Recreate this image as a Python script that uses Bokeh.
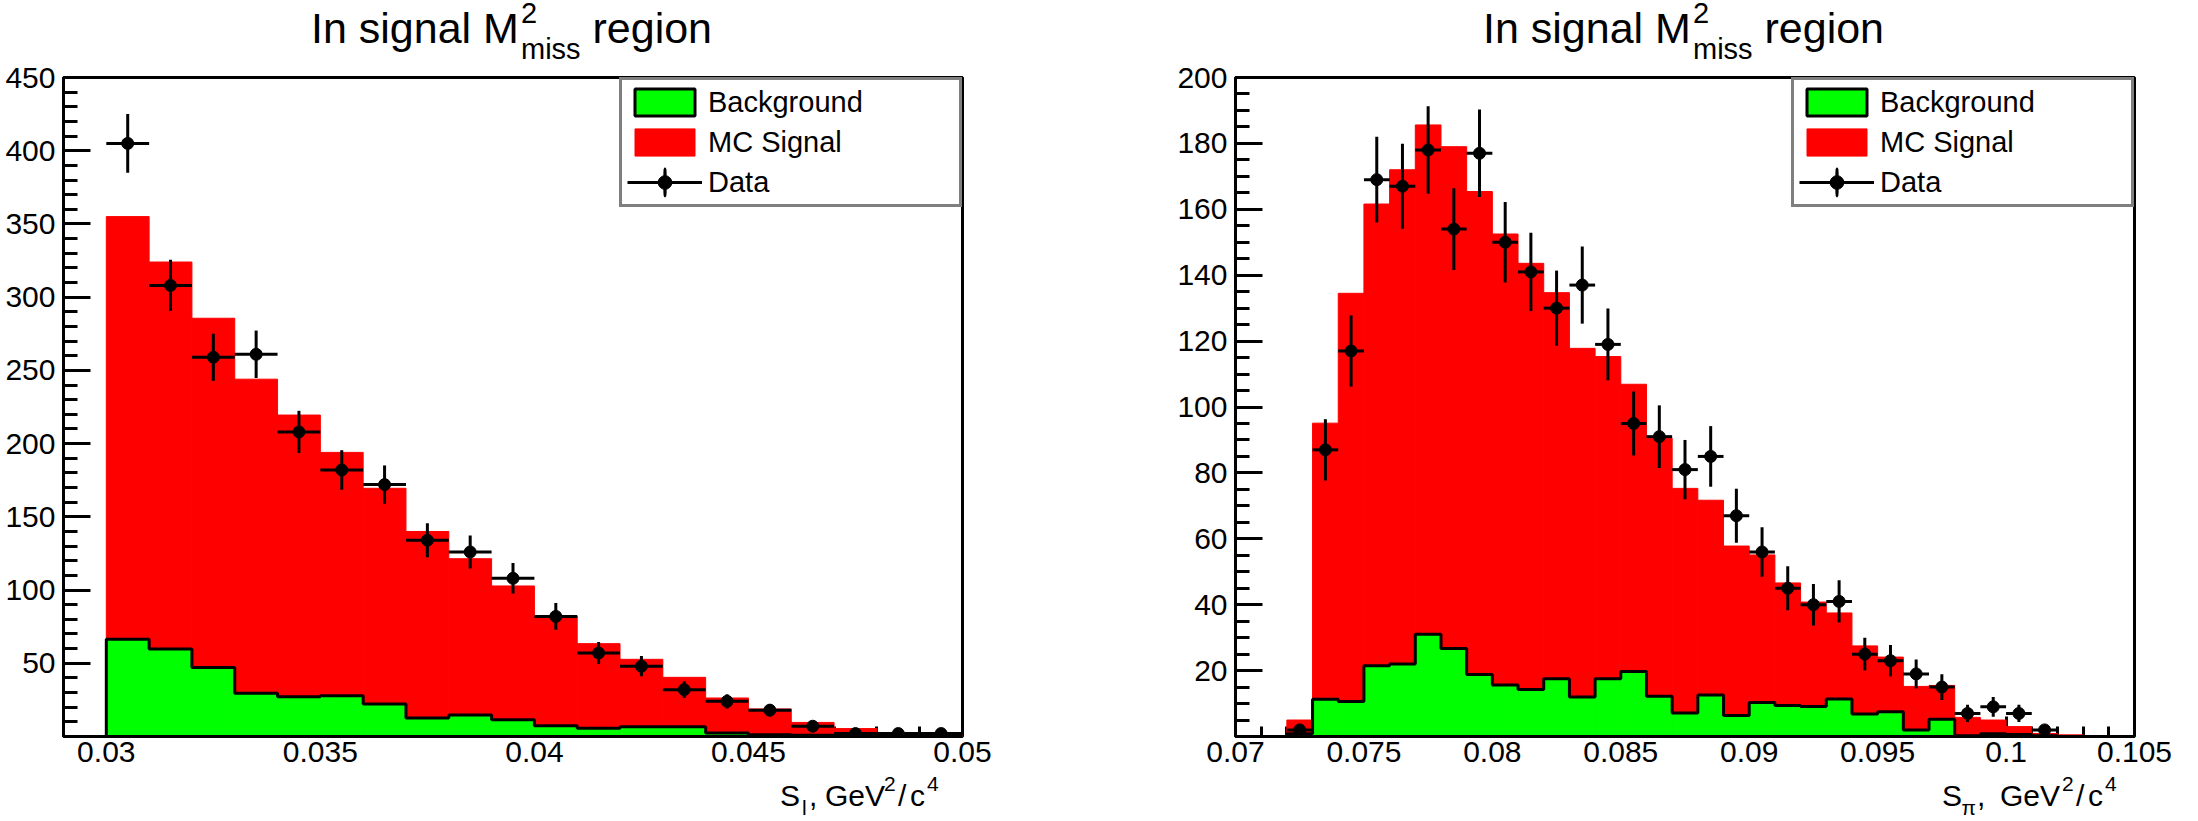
from bokeh.plotting import figure
from bokeh.layouts import row, column
from bokeh.models import (Range1d, FixedTicker, PrintfTickFormatter, Legend,
                          LegendItem, ColumnDataSource, LinearAxis, Div,
                          CustomJSTickFormatter)
from bokeh.embed import file_html
from bokeh.resources import INLINE

# ---------------- left panel : S_l ----------------
sl_edges = [0.029, 0.030, 0.031, 0.032, 0.033, 0.034, 0.035, 0.036, 0.037, 0.038, 0.039,
            0.040, 0.041, 0.042, 0.043, 0.044, 0.045, 0.046, 0.047, 0.048, 0.049, 0.050]
sl_background = [0, 66.4, 59.8, 47.2, 29.5, 27.2, 27.9, 22.2, 12.6, 14.7, 11.5,
                 7.4, 5.6, 6.7, 6.7, 2.4, 1.2, 0.8, 0.5, 0.3, 0.2]
# MC signal stacked on top of the background (top of the red histogram)
sl_mc_total = [0, 355, 324, 285.6, 244, 219.5, 194, 169.5, 140, 121.4, 102.8,
               82.3, 63.4, 52.7, 40.4, 26.3, 18.8, 9.6, 5.4, 2.3, 1.2]
sl_data = [None, 405, 308, 259, 261, 208, 182, 172, 134, 126, 108,
           82, 57, 48, 32, 24, 18, 7, 2, 2, 2]
sl_data_err = [None, 20.1, 17.5, 16.1, 16.2, 14.4, 13.5, 13.1, 11.6, 11.2, 10.4,
               9.1, 7.5, 6.9, 5.7, 4.9, 4.2, 2.6, 1.4, 1.4, 1.4]
sl_xticks = [0.03, 0.035, 0.04, 0.045, 0.05]
sl_xtick_labels = ["0.03", "0.035", "0.04", "0.045", "0.05"]
sl_yticks = [50, 100, 150, 200, 250, 300, 350, 400, 450]

# ---------------- right panel : S_pi ----------------
sp_edges = [0.070, 0.071, 0.072, 0.073, 0.074, 0.075, 0.076, 0.077, 0.078, 0.079,
            0.080, 0.081, 0.082, 0.083, 0.084, 0.085, 0.086, 0.087, 0.088, 0.089,
            0.090, 0.091, 0.092, 0.093, 0.094, 0.095, 0.096, 0.097, 0.098, 0.099,
            0.100, 0.101, 0.102, 0.103, 0.104, 0.105]
sp_background = [0, 0, 0.8, 11.3, 10.6, 21.5, 22.0, 31.0, 26.7, 18.8,
                 15.6, 14.3, 17.5, 12.0, 17.5, 19.7, 12.2, 7.1, 12.6, 6.4,
                 10.3, 9.4, 9.1, 11.4, 6.8, 7.5, 2.0, 5.2, 0.2, 0.8,
                 0.6, 0.2, 0, 0, 0]
sp_mc_total = [0, 0, 5.0, 95.1, 134.5, 161.6, 172.0, 185.6, 179.0, 165.4,
               152.5, 143.6, 134.7, 117.8, 115.3, 106.9, 90.5, 75.3, 71.7, 57.8,
               55.1, 46.6, 40.8, 37.5, 27.5, 24.1, 15.2, 15.5, 5.8, 5.0,
               3.0, 0.9, 0.5, 0, 0]
sp_data = [None, None, 2, 87, 117, 169, 167, 178, 154, 177,
           150, 141, 130, 137, 119, 95, 91, 81, 85, 67,
           56, 45, 40, 41, 25, 23, 19, 15, 7, 9,
           7, 2, None, None, None]
sp_data_err = [None, None, 1.4, 9.3, 10.8, 13.0, 12.9, 13.3, 12.4, 13.3,
               12.2, 11.9, 11.4, 11.7, 10.9, 9.7, 9.5, 9.0, 9.2, 8.2,
               7.5, 6.7, 6.3, 6.4, 5.0, 4.8, 4.4, 3.9, 2.6, 3.0,
               2.6, 1.4, None, None, None]
sp_xticks = [0.07, 0.075, 0.08, 0.085, 0.09, 0.095, 0.1, 0.105]
sp_xtick_labels = ["0.07", "0.075", "0.08", "0.085", "0.09", "0.095", "0.1", "0.105"]
sp_yticks = [20, 40, 60, 80, 100, 120, 140, 160, 180, 200]

FONT = "Liberation Sans"
RED = "#ff0000"
GREEN = "#00ff00"

PANEL_W = 1099
TITLE_H = 60
XTITLE_H = 45
TOP_B = 17
BOT_B = 40
FRAME_W = 899
FRAME_H = 659


def span(x, baseline, size, text):
    top = baseline - 0.8465 * size
    return (f'<span style="position:absolute;left:{x:.1f}px;top:{top:.1f}px;'
            f'font-family:\'{FONT}\';font-size:{size}px;line-height:{size}px;'
            f'white-space:nowrap;color:#000;margin:0;padding:0;">{text}</span>')


def text_div(spans, h):
    html = (f'<div style="position:relative;width:{PANEL_W}px;height:{h}px;margin:0;padding:0;">'
            + "".join(spans) + '</div>')
    return Div(text=html, width=PANEL_W, height=h, margin=(0, 0, 0, 0))


def title_div(cx):
    return text_div([span(cx - 201.5, 43, 43, "In signal M"),
                     span(cx + 8.5, 23, 29, "2"),
                     span(cx + 8.5, 59, 29, "miss"),
                     span(cx + 80, 43, 43, "region")], TITLE_H)


def xtitle_div(ex, sub, offs):
    # offs: x offsets (px, from the frame's right end) of S, sub, ",", GeV, 2, /, c, 4
    base = 30      # baseline of the main text inside the div
    o_s, o_sub, o_com, o_gev, o_2, o_sl, o_c, o_4 = offs
    return text_div([span(ex + o_s, base, 30, "S"),
                     span(ex + o_sub, base + 9, 21, sub),
                     span(ex + o_com, base, 30, ","),
                     span(ex + o_gev, base, 30, "GeV"),
                     span(ex + o_2, base - 15, 21, "2"),
                     span(ex + o_sl, base, 30, "/"),
                     span(ex + o_c, base, 30, "c"),
                     span(ex + o_4, base - 15, 21, "4")], XTITLE_H)


def make_panel(edges, background, mc_total, data, data_err, y_top,
               xticks, xtick_labels, yticks, y_minor_step, border_left, border_right):
    x0, x1 = edges[0], edges[-1]
    p = figure(width=border_left + FRAME_W + border_right, height=TOP_B + FRAME_H + BOT_B,
               frame_width=FRAME_W, frame_height=FRAME_H,
               x_range=Range1d(x0, x1), y_range=Range1d(0, y_top),
               output_backend="svg", toolbar_location=None,
               min_border_left=border_left, min_border_right=border_right,
               min_border_top=TOP_B, min_border_bottom=BOT_B)
    p.background_fill_color = "white"
    p.border_fill_color = "white"
    p.outline_line_color = "black"
    p.outline_line_width = 3
    p.xgrid.visible = False
    p.ygrid.visible = False

    lefts = edges[:-1]
    rights = edges[1:]
    src = ColumnDataSource(dict(left=lefts, right=rights, bg=background, tot=mc_total))
    red = p.quad(left="left", right="right", bottom=0, top="tot", source=src,
                 fill_color=RED, line_color=RED, line_width=1)
    p.quad(left="left", right="right", bottom=0, top="bg", source=src,
           fill_color=GREEN, line_color=GREEN, line_width=1)
    p.step(x=list(edges), y=list(background) + [background[-1]], mode="after",
           line_color="black", line_width=3)

    idx = [i for i, v in enumerate(data) if v is not None]
    dsrc = ColumnDataSource(dict(
        xl=[lefts[i] for i in idx], xr=[rights[i] for i in idx],
        xc=[(lefts[i] + rights[i]) / 2 for i in idx],
        y=[data[i] for i in idx],
        ylo=[data[i] - data_err[i] for i in idx],
        yhi=[data[i] + data_err[i] for i in idx]))
    hseg = p.segment(x0="xl", x1="xr", y0="y", y1="y", source=dsrc,
                     line_color="black", line_width=3)
    p.segment(x0="xc", x1="xc", y0="ylo", y1="yhi", source=dsrc,
              line_color="black", line_width=3)
    dots = p.scatter(x="xc", y="y", source=dsrc, marker="circle", size=12,
                     fill_color="black", line_color="black")

    # legend-only proxies, placed below the visible y range (fully clipped)
    bg_proxy = p.quad(left=[lefts[0]], right=[rights[0]], top=[-y_top], bottom=[-2 * y_top],
                      fill_color=GREEN, line_color="black", line_width=3)
    vbar_proxy = p.ellipse(x=[lefts[0]], y=[-y_top], width=0.3, height=24,
                           width_units="screen", height_units="screen",
                           fill_color=None, line_color="black", line_width=3)

    legend = Legend(items=[LegendItem(label="Background", renderers=[bg_proxy]),
                           LegendItem(label="MC Signal", renderers=[red]),
                           LegendItem(label="Data", renderers=[hseg, vbar_proxy, dots])],
                    location="top_right", margin=0, padding=5, spacing=6,
                    glyph_width=75, glyph_height=34, label_height=34, label_width=246,
                    label_standoff=6, label_text_font=FONT, label_text_font_size="29px",
                    label_text_color="black",
                    border_line_color="black", border_line_width=3,
                    background_fill_color="white", background_fill_alpha=1.0)
    p.add_layout(legend)

    # x axis 1: tick marks only, drawn underneath the histograms (as in ROOT)
    xa = p.xaxis[0]
    xa.ticker = FixedTicker(ticks=xticks, minor_ticks=list(edges))
    xa.formatter = CustomJSTickFormatter(code="return ''")
    xa.major_label_text_font_size = "1px"
    xa.major_label_standoff = 0
    xa.axis_line_color = None
    xa.major_tick_in = 20
    xa.minor_tick_in = 10
    xa.major_tick_out = 0
    xa.minor_tick_out = 0
    xa.major_tick_line_width = 3
    xa.minor_tick_line_width = 3
    xa.major_tick_line_color = "black"
    xa.minor_tick_line_color = "black"
    xa.level = "underlay"

    # x axis 2: axis line and tick labels
    xl = LinearAxis(ticker=FixedTicker(ticks=xticks, minor_ticks=[]),
                    formatter=PrintfTickFormatter(format="%g"),
                    major_label_overrides=dict(zip(xticks, xtick_labels)))
    xl.axis_line_color = "black"
    xl.axis_line_width = 3
    xl.major_tick_in = 0
    xl.major_tick_out = 0
    xl.minor_tick_in = 0
    xl.minor_tick_out = 0
    xl.major_label_text_font = FONT
    xl.major_label_text_font_size = "30px"
    xl.major_label_text_color = "black"
    xl.major_label_standoff = 5
    p.add_layout(xl, "below")

    ya = p.yaxis[0]
    ya.ticker = FixedTicker(ticks=yticks, minor_ticks=list(range(y_minor_step, y_top, y_minor_step)))
    ya.axis_line_color = "black"
    ya.axis_line_width = 3
    ya.major_tick_line_color = "black"
    ya.minor_tick_line_color = "black"
    ya.major_tick_line_width = 3
    ya.minor_tick_line_width = 3
    ya.major_tick_in = 27
    ya.minor_tick_in = 14
    ya.major_tick_out = 0
    ya.minor_tick_out = 0
    ya.major_label_text_font = FONT
    ya.major_label_text_font_size = "30px"
    ya.major_label_text_color = "black"
    ya.major_label_standoff = 8
    return p


p1 = make_panel(sl_edges, sl_background, sl_mc_total, sl_data, sl_data_err, 450,
                sl_xticks, sl_xtick_labels, sl_yticks, 10, 63, PANEL_W - 63 - FRAME_W)
p2 = make_panel(sp_edges, sp_background, sp_mc_total, sp_data, sp_data_err, 200,
                sp_xticks, sp_xtick_labels, sp_yticks, 5, 136, PANEL_W - 136 - FRAME_W)

# frame centres / right ends inside each 1099 px wide panel
t1 = title_div(63 + FRAME_W / 2)
t2 = title_div(136 + FRAME_W / 2)
x1 = xtitle_div(63 + FRAME_W, "l", (-182, -160, -153, -137, -78, -64, -52, -35))
x2 = xtitle_div(136 + FRAME_W, "&pi;", (-192, -172.5, -157, -134, -72, -58, -46, -29))

layout = column(row(t1, t2, spacing=0),
                row(p1, p2, spacing=0),
                row(x1, x2, spacing=0), spacing=0)
open("out.html", "w").write(file_html(layout, INLINE))
